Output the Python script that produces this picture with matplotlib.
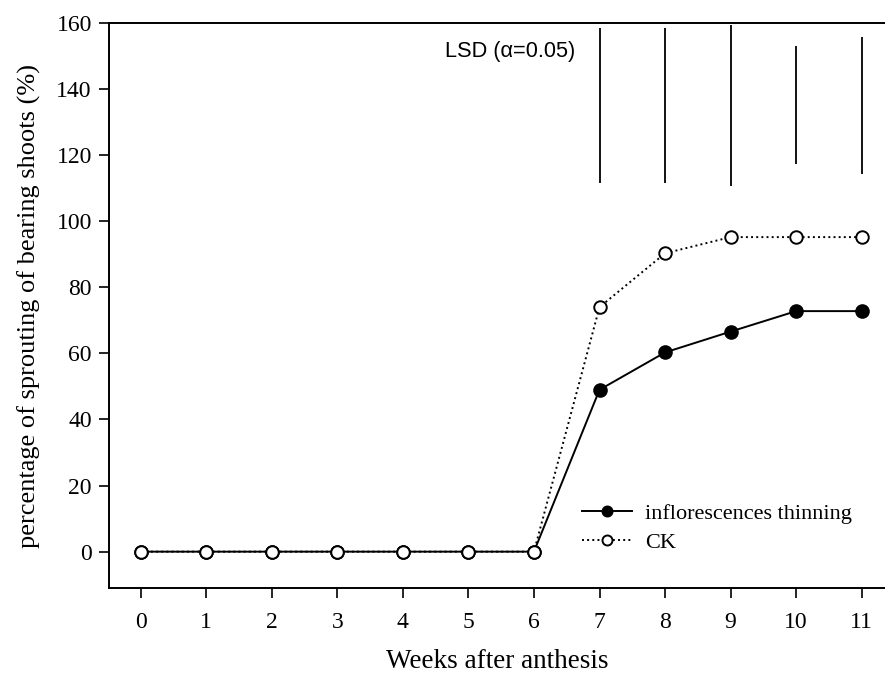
import matplotlib.pyplot as plt

plt.rcParams['font.family'] = 'Liberation Serif'

weeks = [0, 1, 2, 3, 4, 5, 6, 7, 8, 9, 10, 11]
thinning = [0, 0, 0, 0, 0, 0, 0, 49.0, 60.3, 66.6, 72.8, 72.8]
ck = [0, 0, 0, 0, 0, 0, 0, 74.0, 90.3, 95.2, 95.2, 95.2]

lsd_weeks = [7, 8, 9, 10, 11]
lsd_low = [111.7, 111.7, 110.7, 117.3, 114.4]
lsd_high = [158.5, 158.4, 159.5, 152.9, 155.7]

fig = plt.figure(figsize=(8.85, 6.79), dpi=100)
ax = fig.add_axes([108.5 / 885, 1 - 588 / 679, (885 - 108.5) / 885, (588 - 23) / 679])

ax.plot(weeks, thinning, '-', color='black', lw=1.4, marker='o', ms=9.5,
        mfc='black', mec='black', label='inflorescences thinning')
ax.plot(weeks, ck, ':', color='black', lw=1.4, marker='o', ms=9,
        mfc='white', mec='black', mew=1.4, label='CK')

# LSD bars
ax.vlines(lsd_weeks, lsd_low, lsd_high, color='black', lw=1.3)
ax.text(6.63, 151.3, 'LSD (\u03b1=0.05)', family='Liberation Sans', fontsize=15.7,
        ha='right', va='center')

ax.set_xlim(-0.49, 11.355)
ax.set_ylim(-11, 160)
ax.set_xticks(weeks)
ax.set_yticks(range(0, 161, 20))
ax.tick_params(direction='out', length=7, width=1.2, labelsize=17)
ax.tick_params(axis='x', pad=10)
ax.tick_params(axis='y', pad=5)
ax.spines['right'].set_visible(False)
for s in ['left', 'top', 'bottom']:
    ax.spines[s].set_linewidth(1.4)

ax.set_xlabel('Weeks after anthesis', fontsize=19.5, labelpad=12)
ax.set_ylabel('percentage of sprouting of bearing shoots (%)', fontsize=19, labelpad=11)

ax.legend(loc='center left', bbox_to_anchor=(0.610, 0.106), frameon=False, fontsize=16,
          borderpad=0, borderaxespad=0, handlelength=2.25, handletextpad=0.6,
          labelspacing=0.35, markerscale=0.8)

fig.savefig('out.png', dpi=100)
